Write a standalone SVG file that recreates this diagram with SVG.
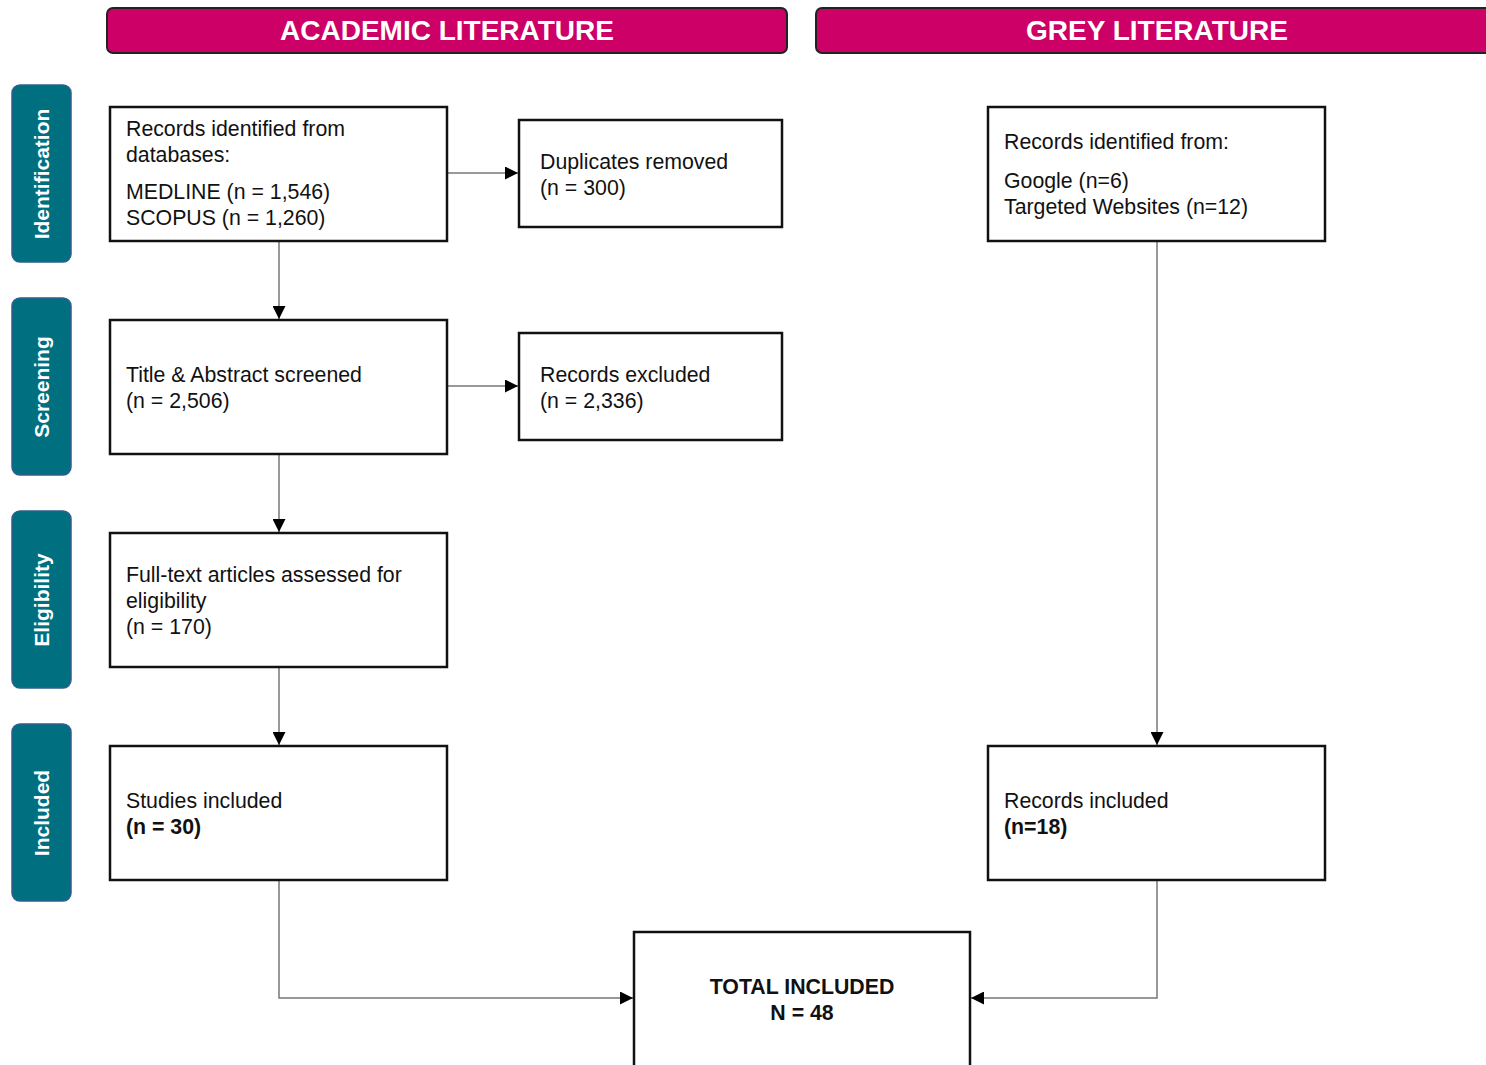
<svg xmlns="http://www.w3.org/2000/svg" width="1486" height="1065" viewBox="0 0 1486 1065">
<style>
.hdr{fill:#CC0066;stroke:#222;stroke-width:2}
.hdrt{font-family:"Liberation Sans",Arial,sans-serif;font-weight:bold;font-size:28px;fill:#fff;text-anchor:middle}
.side{fill:#007080;stroke:#2f5f8f;stroke-width:1.5}
.sidet{font-family:"Liberation Sans",Arial,sans-serif;font-weight:bold;font-size:21px;fill:#fff;text-anchor:middle}
.box{fill:#fff;stroke:#111;stroke-width:2.5}
.t{font-family:"Liberation Sans",Arial,sans-serif;font-size:21.3px;fill:#111}
.b{font-weight:bold}
.c{text-anchor:middle}
.ln{fill:none;stroke:#777;stroke-width:1.5}
</style>
<defs>
<marker id="arr" viewBox="0 0 10 10" refX="10" refY="5" markerWidth="13" markerHeight="13" markerUnits="userSpaceOnUse" orient="auto">
<path d="M0,0 L10,5 L0,10 z" fill="#000"/>
</marker>
</defs>
<rect width="1486" height="1065" fill="#fff"/>

<g id="header-academic">
<rect class="hdr" x="107" y="8" width="680" height="45" rx="6"/>
<text class="hdrt" x="447" y="40">ACADEMIC LITERATURE</text>
</g>
<g id="header-grey">
<rect class="hdr" x="816" y="8" width="690" height="45" rx="6"/>
<text class="hdrt" x="1157" y="40">GREY LITERATURE</text>
</g>

<g id="stage-identification">
<rect class="side" x="12" y="85" width="59" height="177" rx="8"/>
<text class="sidet" transform="translate(49,174) rotate(-90)">Identification</text>
</g>
<g id="stage-screening">
<rect class="side" x="12" y="298" width="59" height="177" rx="8"/>
<text class="sidet" transform="translate(49,387) rotate(-90)">Screening</text>
</g>
<g id="stage-eligibility">
<rect class="side" x="12" y="511" width="59" height="177" rx="8"/>
<text class="sidet" transform="translate(49,600) rotate(-90)">Eligibility</text>
</g>
<g id="stage-included">
<rect class="side" x="12" y="724" width="59" height="177" rx="8"/>
<text class="sidet" transform="translate(49,813) rotate(-90)">Included</text>
</g>

<g id="connectors">
<line class="ln" x1="447" y1="173" x2="518" y2="173" marker-end="url(#arr)"/>
<line class="ln" x1="447" y1="386" x2="518" y2="386" marker-end="url(#arr)"/>
<line class="ln" x1="279" y1="241" x2="279" y2="319" marker-end="url(#arr)"/>
<line class="ln" x1="279" y1="454" x2="279" y2="532" marker-end="url(#arr)"/>
<line class="ln" x1="279" y1="667" x2="279" y2="745" marker-end="url(#arr)"/>
<line class="ln" x1="1157" y1="241" x2="1157" y2="745" marker-end="url(#arr)"/>
<polyline class="ln" points="279,880 279,998 633,998" marker-end="url(#arr)"/>
<polyline class="ln" points="1157,880 1157,998 971,998" marker-end="url(#arr)"/>
</g>

<g id="records-db">
<rect class="box" x="110" y="107" width="337" height="134"/>
<text class="t" x="126" y="136">Records identified from</text>
<text class="t" x="126" y="162">databases:</text>
<text class="t" x="126" y="199">MEDLINE (n = 1,546)</text>
<text class="t" x="126" y="225">SCOPUS (n = 1,260)</text>
</g>
<g id="duplicates">
<rect class="box" x="519" y="120" width="263" height="107"/>
<text class="t" x="540" y="169">Duplicates removed</text>
<text class="t" x="540" y="195">(n = 300)</text>
</g>
<g id="screened">
<rect class="box" x="110" y="320" width="337" height="134"/>
<text class="t" x="126" y="382">Title &amp; Abstract screened</text>
<text class="t" x="126" y="408">(n = 2,506)</text>
</g>
<g id="excluded">
<rect class="box" x="519" y="333" width="263" height="107"/>
<text class="t" x="540" y="382">Records excluded</text>
<text class="t" x="540" y="408">(n = 2,336)</text>
</g>
<g id="fulltext">
<rect class="box" x="110" y="533" width="337" height="134"/>
<text class="t" x="126" y="582">Full-text articles assessed for</text>
<text class="t" x="126" y="608">eligibility</text>
<text class="t" x="126" y="634">(n = 170)</text>
</g>
<g id="studies-included">
<rect class="box" x="110" y="746" width="337" height="134"/>
<text class="t" x="126" y="808">Studies included</text>
<text class="t b" x="126" y="834">(n = 30)</text>
</g>
<g id="grey-records">
<rect class="box" x="988" y="107" width="337" height="134"/>
<text class="t" x="1004" y="149">Records identified from:</text>
<text class="t" x="1004" y="188">Google (n=6)</text>
<text class="t" x="1004" y="214">Targeted Websites (n=12)</text>
</g>
<g id="grey-included">
<rect class="box" x="988" y="746" width="337" height="134"/>
<text class="t" x="1004" y="808">Records included</text>
<text class="t b" x="1004" y="834">(n=18)</text>
</g>
<g id="total">
<rect class="box" x="634" y="932" width="336" height="150"/>
<text class="t b c" x="802" y="994">TOTAL INCLUDED</text>
<text class="t b c" x="802" y="1020">N = 48</text>
</g>
</svg>
